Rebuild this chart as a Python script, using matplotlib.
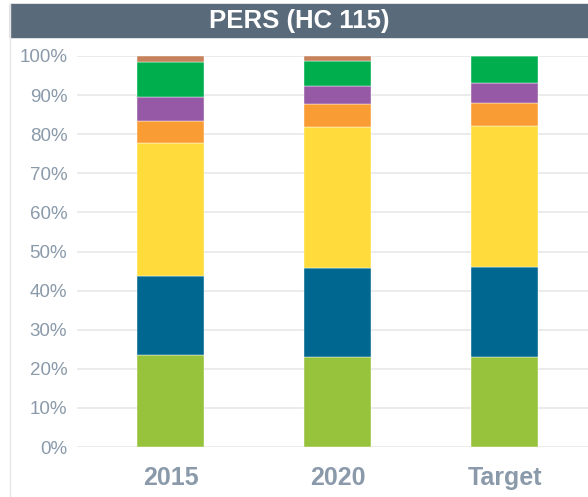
import numpy as np
import matplotlib.pyplot as plt
from matplotlib.patches import Rectangle

plt.rcParams['font.family'] = ['Liberation Sans', 'DejaVu Sans']

# Data (shares of total)
categories = ['2015', '2020', 'Target']
seg_lightgreen = [23.5, 23.0, 23.0]
seg_blue = [20.2, 22.9, 23.0]
seg_yellow = [34.0, 35.9, 36.0]
seg_orange = [5.8, 5.9, 6.1]
seg_purple = [5.9, 4.5, 4.9]
seg_green = [9.1, 6.6, 7.0]
seg_brown = [1.5, 1.2, 0.0]

series = [seg_lightgreen, seg_blue, seg_yellow, seg_orange,
          seg_purple, seg_green, seg_brown]
colors = ['#97c23c', '#006890', '#ffdc3b', '#f99c33',
          '#9659a6', '#00ae4d', '#c6825a']

W, H = 588, 497
fig = plt.figure(figsize=(W / 100, H / 100), dpi=100)

# title band and left border
fig.patches.append(Rectangle((10 / W, 1 - 37 / H), 1, 33 / H,
                             transform=fig.transFigure, color='#596a7a', zorder=0))
fig.add_artist(plt.Line2D([9.5 / W, 9.5 / W], [0, 1 - 4 / H],
                          transform=fig.transFigure, color='#e6e6e6', lw=1))
fig.text((10 + W) / 2 / W, 1 - 21 / H, 'PERS (HC 115)', color='white',
         fontsize=18.5, fontweight='bold', ha='center', va='center')

ax = fig.add_axes([77 / W, (H - 447) / H, (W - 77) / W, (447 - 56) / H])
x = np.arange(len(categories))
bottom = np.zeros(len(categories))
for vals, c in zip(series, colors):
    v = np.array(vals) / 100
    ax.bar(x, v, 0.4, bottom=bottom, color=c, edgecolor='white',
           linewidth=0.3, zorder=3)
    bottom += v

ax.set_xlim(-0.56, 2.5)
ax.set_ylim(0, 1.0)
ax.set_yticks(np.arange(0, 1.01, 0.1))
ax.set_yticklabels([f'{int(round(t * 100))}%' for t in np.arange(0, 1.01, 0.1)])
ax.set_xticks(x)
ax.set_xticklabels(categories, fontsize=18, fontweight='bold', color='#8a9aaa')
ax.tick_params(axis='y', labelsize=13.5, labelcolor='#8a9aaa', length=0, pad=7)
ax.tick_params(axis='x', length=0, pad=14)
ax.yaxis.grid(True, color='#e8e8e8', lw=1.2, zorder=0)
for s in ax.spines.values():
    s.set_visible(False)
ax.set_axisbelow(True)

fig.savefig('out.png', dpi=100)
